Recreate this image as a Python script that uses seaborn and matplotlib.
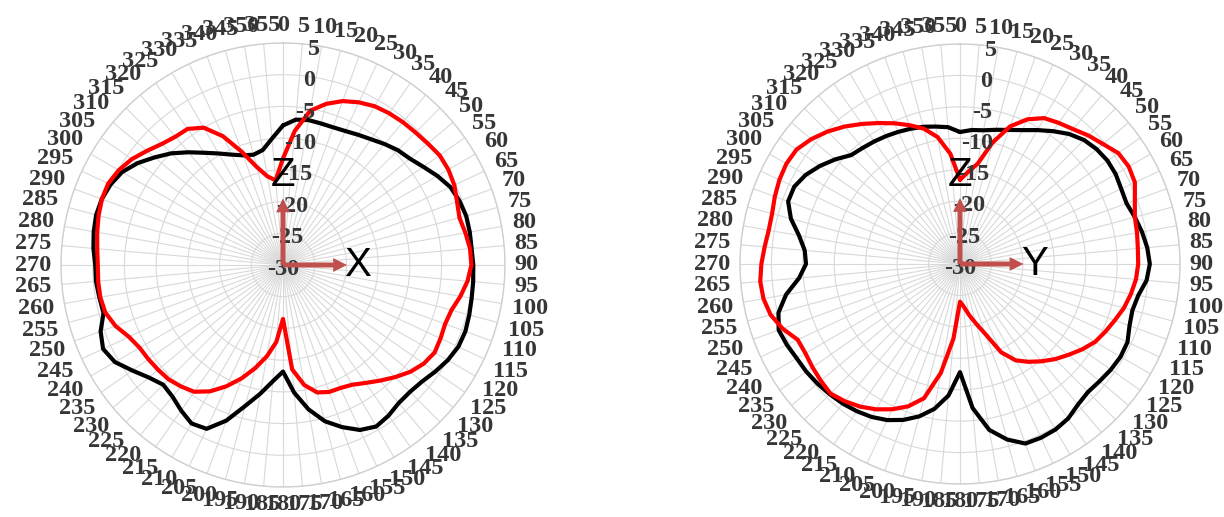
import numpy as np
import pandas as pd
import matplotlib
matplotlib.use("Agg")
import matplotlib.pyplot as plt
import seaborn as sns

# Measurement angles (degrees, clockwise from +Z) and gain ring values (dB)
ANGLES = list(range(0, 360, 5))
ANGLE_LABELS = [str(a) for a in ANGLES]
R_TICKS = [-30, -25, -20, -15, -10, -5, 0, 5]

# XZ plane cut
XZ_BLACK = [-8.0, -7.0, -6.8, -6.9, -6.9, -6.7, -6.3, -5.8, -5.1, -4.4, -3.9, -3.0,
            -1.9, -0.9, -0.4, -0.1, -0.1, -0.15, 0.0, 0.1, 0.2, 0.4, 0.6, 0.5,
            0.0, -0.7, -1.4, -1.7, -1.6, -1.0, -0.6, -1.3, -2.8, -4.5, -6.9, -9.8,
            -13.2, -11.6, -9.4, -7.0, -3.9, -1.5, -1.15, -2.0, -2.9, -3.3, -2.4, -1.0,
            0.6, 1.3, 0.6, -0.7, -0.6, -0.4, -0.4, 0.0, 0.3, 0.5, 0.4, 0.0,
            -0.7, -2.0, -3.6, -5.1, -6.8, -8.4, -9.7, -10.8, -11.6, -12.0, -11.6, -10.0]
XZ_RED = [-13.2, -8.8, -5.3, -3.7, -2.5, -1.7, -1.1, -0.8, -0.6, -0.45, -0.2, 0.15,
          0.1, -0.2, -0.8, -1.2, -0.8, -0.4, -0.3, -0.8, -1.6, -2.5, -2.8, -2.6,
          -2.4, -2.9, -3.8, -5.0, -6.2, -7.3, -8.2, -8.6, -8.7, -9.2, -10.8, -13.5,
          -21.5, -17.8, -15.4, -13.2, -11.0, -8.9, -7.0, -5.6, -5.0, -4.5, -4.3, -4.1,
          -3.9, -3.2, -1.9, -1.0, -0.75, -0.75, -0.8, -0.6, -0.25, 0.1, 0.4, 0.4,
          -0.1, -0.9, -2.0, -3.0, -3.6, -3.8, -5.0, -7.6, -11.0, -14.0, -15.8, -16.6]

# YZ plane cut
YZ_BLACK = [-9.0, -8.6, -8.4, -7.9, -7.3, -6.5, -5.4, -4.2, -3.0, -2.1, -1.6, -1.35,
            -1.4, -1.7, -1.8, -1.2, -0.6, -0.1, 0.2, -0.2, -1.2, -1.6, -1.3, -0.6,
            -0.5, -0.7, -1.0, -1.2, -0.8, 0.0, 0.4, 0.5, 0.4, -1.1, -3.2, -7.0,
            -12.8, -9.0, -6.6, -4.9, -3.6, -2.6, -1.9, -1.4, -1.0, -0.7, -0.4, -0.15,
            0.0, 0.4, 0.7, -0.1, -1.9, -4.3, -5.5, -5.2, -4.0, -2.15, -0.9, -0.9,
            -1.65, -2.8, -4.1, -5.5, -5.9, -6.2, -6.5, -6.8, -7.1, -7.4, -7.8, -8.15]
YZ_RED = [-16.6, -15.3, -13.8, -10.0, -6.7, -4.6, -3.2, -2.6, -2.0, -1.1, -0.3, 0.75,
          1.0, 0.7, -0.4, -1.2, -1.4, -1.6, -1.65, -1.9, -2.4, -3.0, -3.8, -4.5,
          -5.2, -6.3, -7.5, -8.6, -9.8, -11.0, -12.3, -14.5, -18.1, -20.2, -21.8, -23.2,
          -24.0, -18.1, -12.4, -7.9, -5.9, -4.5, -3.3, -2.3, -1.5, -0.85, -1.1, -1.35,
          -1.6, -1.5, 0.05, 1.2, 1.75, 1.9, 1.6, 1.2, 0.9, 0.95, 1.35, 1.7,
          1.9, 1.75, 0.9, -0.2, -1.45, -2.8, -4.1, -5.3, -6.5, -7.7, -9.5, -12.4]

TEXT = "#363636"
GRID = "#d9d9d9"
ARROW = "#c0504d"
LABEL_FS = 17.5

sns.set_theme(style="white")
plt.rcParams["font.family"] = ["Liberation Serif", "DejaVu Serif"]

fig = plt.figure(figsize=(12.24, 5.17), dpi=100)
fig.patch.set_facecolor("white")


def draw_panel(ax, black, red, horiz):
    ax.set_theta_zero_location("N")
    ax.set_theta_direction(-1)
    theta = np.deg2rad(ANGLES + [360])
    for vals, col in ((black, "black"), (red, "#ff0000")):
        df = pd.DataFrame({"theta": theta, "gain": vals + [vals[0]]})
        sns.lineplot(data=df, x="theta", y="gain", ax=ax, color=col,
                     linewidth=3.0, sort=False, estimator=None, zorder=3,
                     solid_joinstyle="round", solid_capstyle="round")
    ax.set_ylim(R_TICKS[0], R_TICKS[-1])
    ax.set_xlabel("")
    ax.set_ylabel("")
    ax.set_xticks(np.deg2rad(ANGLES))
    ax.set_xticklabels([])
    ax.set_yticks(R_TICKS)
    ax.set_yticklabels([])
    ax.grid(True, color=GRID, linewidth=0.8)
    ax.spines["polar"].set_color("#cfcfcf")
    ax.spines["polar"].set_linewidth(1.0)
    ax.set_facecolor("white")

    # angle labels just outside the outer ring
    for ang, lab in zip(ANGLES, ANGLE_LABELS):
        t = np.deg2rad(ang)
        w = 0.5 * LABEL_FS * len(lab)
        h = 0.62 * LABEL_FS
        d = 7 + abs(np.sin(t)) * w / 2 + abs(np.cos(t)) * h / 2
        ax.annotate(lab, xy=(t, R_TICKS[-1]), xytext=(d * np.sin(t), d * np.cos(t)),
                    textcoords="offset points", ha="center", va="center",
                    fontsize=LABEL_FS, fontweight="bold", color=TEXT,
                    annotation_clip=False, zorder=5)

    # ring values along the vertical axis
    for r in R_TICKS:
        ax.annotate(str(r), xy=(np.deg2rad(8), r), xytext=(0, -3),
                    textcoords="offset points", ha="center", va="center",
                    fontsize=LABEL_FS, fontweight="bold", color=TEXT, zorder=5)

    # coordinate frame arrows
    style = "simple,head_length=0.5,head_width=0.5,tail_width=0.18"
    for t_tip, r_tip in ((0.0, -19.5), (np.pi / 2, -19.9)):
        ax.annotate("", xy=(t_tip, r_tip), xytext=(t_tip, -30),
                    arrowprops=dict(arrowstyle=style, color=ARROW, lw=0,
                                    mutation_scale=20, shrinkA=0, shrinkB=0),
                    zorder=6)
    ax.text(0.0, -15.8, "Z", ha="center", va="center", fontsize=29,
            family="Liberation Sans", color="black", zorder=7)
    ax.text(np.pi / 2, -18.2, horiz, ha="center", va="center", fontsize=29,
            family="Liberation Sans", color="black", zorder=7)


ax_xz = fig.add_axes([61 / 1224, (517 - 265 - 222) / 517, 444 / 1224, 444 / 517],
                     projection="polar")
ax_yz = fig.add_axes([740 / 1224, (517 - 264 - 220) / 517, 440 / 1224, 440 / 517],
                     projection="polar")

draw_panel(ax_xz, XZ_BLACK, XZ_RED, "X")
draw_panel(ax_yz, YZ_BLACK, YZ_RED, "Y")

fig.savefig("out.png", dpi=100, facecolor="white")
